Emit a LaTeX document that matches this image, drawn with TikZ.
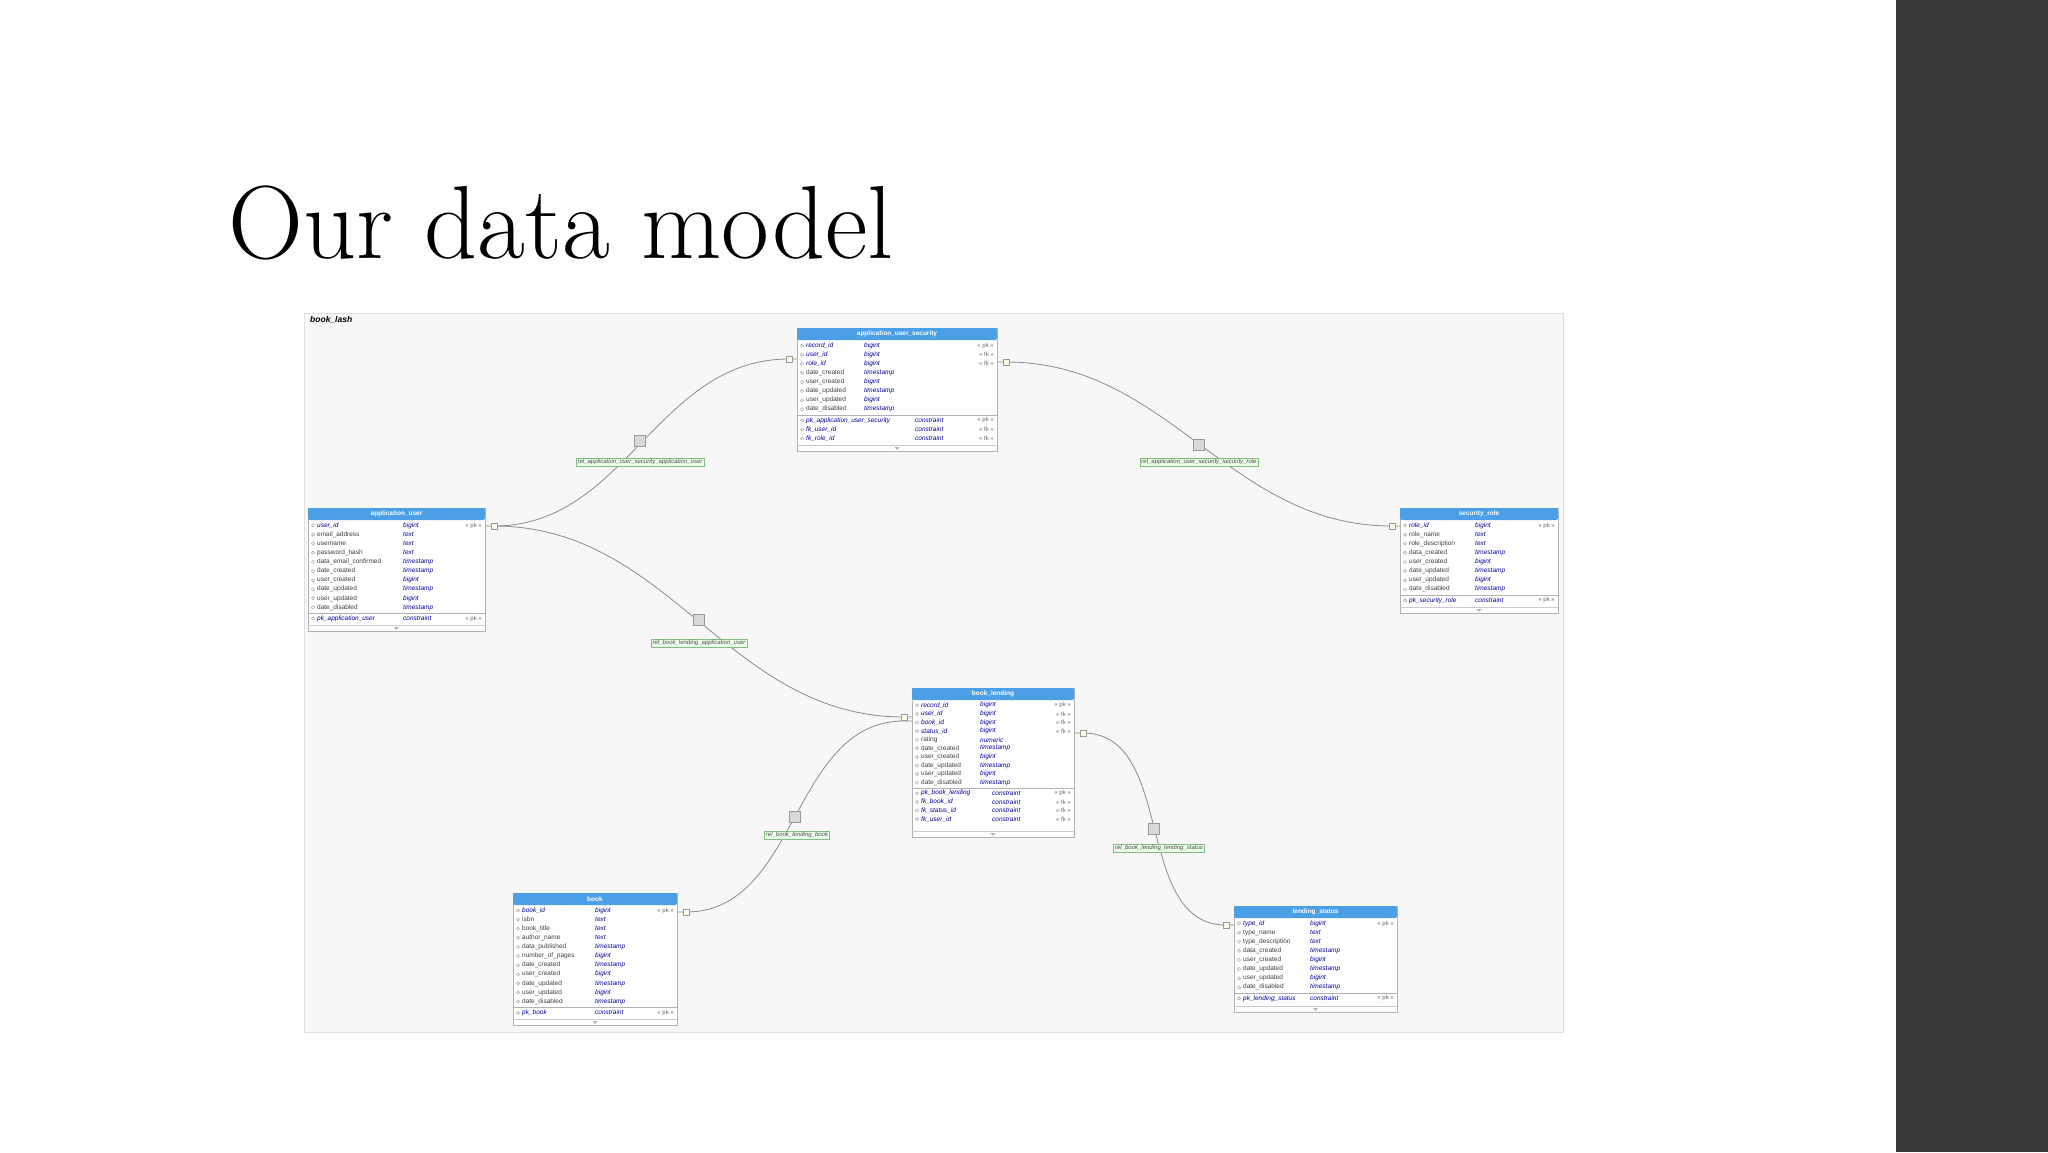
\documentclass[tikz,border=0pt]{standalone}
\usepackage{fontspec}
\newfontfamily\dg{Liberation Sans}
\definecolor{hdr}{HTML}{4A9FE6}
\begin{document}
\begin{tikzpicture}[x=1pt,y=-1pt,
  tbl/.style={draw=black!30,fill=white,inner sep=0,anchor=north west},
  cell/.style={inner sep=0,anchor=west,font=\dg\fontsize{6.5}{7}\selectfont,text=black!75},
  tycell/.style={cell,font=\dg\itshape\fontsize{6.5}{7}\selectfont,text=blue!60!black},
  tag/.style={inner sep=0,anchor=east,font=\dg\fontsize{6}{7}\selectfont,text=black!60},
  rel/.style={draw=black!45,line width=0.8pt},
  sq/.style={draw=black!40,fill=black!15,minimum size=11pt,inner sep=0},
  lab/.style={draw=green!50!black!50,fill=green!8,inner sep=1.5pt,font=\dg\itshape\fontsize{6}{7}\selectfont,text=black!70}]
\newcommand\kk{\itshape\color{blue!60!black}}
\newcommand\ertable[9]{%
  \node[tbl,minimum width=#4pt,minimum height=#5pt] (#1) at (#2,#3) {};
  \fill[rounded corners=2pt,fill=hdr] (#2,#3) rectangle ++(#4,12);
  \node[inner sep=0,font=\dg\bfseries\fontsize{6.5}{7}\selectfont,text=white] at (#2+#4/2,#3+6) {#6};
  \foreach \n/\t/\g [count=\i] in {#8}{
    \draw[black!40] (#2+5,#3+13+\i*\rp-\rp/2) circle (1.6pt);
    \node[cell] at (#2+9,#3+13+\i*\rp-\rp/2) {\n};
    \node[tycell] at (#2+\typex,#3+13+\i*\rp-\rp/2) {\t};
    \node[tag] at (#2+#4-3,#3+13+\i*\rp-\rp/2) {\g};
  }
  \draw[black!30] (#2,#3+14+#7*\rp) -- ++(#4,0);
  \foreach \n/\t/\g [count=\i] in {#9}{
    \draw[black!40] (#2+5,#3+15+#7*\rp+\i*\rp-\rp/2) circle (1.6pt);
    \node[cell] at (#2+9,#3+15+#7*\rp+\i*\rp-\rp/2) {\n};
    \node[tycell] at (#2+\consx,#3+15+#7*\rp+\i*\rp-\rp/2) {\t};
    \node[tag] at (#2+#4-3,#3+15+#7*\rp+\i*\rp-\rp/2) {\g};
  }
  \draw[black!20] (#2,#3+#5-6) -- ++(#4,0);
  \fill[black!30] (#2+#4/2,#3+#5-1) -- ++(-2.5,-3) -- ++(5,0) -- cycle;
}
\useasboundingbox (0,0) rectangle (2048,1152);
\fill[white] (0,0) rectangle (2048,1152);
\fill[black!78] (1896,0) rectangle (2048,1152);
\node[inner sep=0,anchor=base west,font=\fontsize{104}{112}\selectfont] (title) at (228,258) {Our data model};
\node[draw=black!12,fill=black!3,minimum width=1259pt,minimum height=719pt,anchor=north west,inner sep=0] (panel) at (304,313) {};
\node[anchor=north west,inner sep=0,font=\dg\bfseries\itshape\fontsize{8.5}{10}\selectfont] (schema) at (310,316) {book\_lash};
% tables
\def\rp{9.1}\def\typex{67}\def\consx{118}
\ertable{aus}{797}{328}{200}{123}{application\_user\_security}{8}{{\kk record\_id}/bigint/« pk »,{\kk user\_id}/bigint/« fk »,{\kk role\_id}/bigint/« fk »,date\_created/timestamp/,user\_created/bigint/,date\_updated/timestamp/,user\_updated/bigint/,date\_disabled/timestamp/}{{\kk pk\_application\_user\_security}/constraint/« pk »,{\kk fk\_user\_id}/constraint/« fk »,{\kk fk\_role\_id}/constraint/« fk »}
\def\typex{95}\def\consx{95}
\ertable{au}{308}{508}{177}{123}{application\_user}{10}{{\kk user\_id}/bigint/« pk »,email\_address/text/,username/text/,password\_hash/text/,data\_email\_confirmed/timestamp/,date\_created/timestamp/,user\_created/bigint/,date\_updated/timestamp/,user\_updated/bigint/,date\_disabled/timestamp/}{{\kk pk\_application\_user}/constraint/« pk »}
\def\typex{75}\def\consx{75}
\ertable{sr}{1400}{508}{158}{105}{security\_role}{8}{{\kk role\_id}/bigint/« pk »,role\_name/text/,role\_description/text/,data\_created/timestamp/,user\_created/bigint/,date\_updated/timestamp/,user\_updated/bigint/,date\_disabled/timestamp/}{{\kk pk\_security\_role}/constraint/« pk »}
\def\rp{8.6}\def\typex{68}\def\consx{80}
\ertable{bl}{912}{688}{162}{149}{book\_lending}{10}{{\kk record\_id}/bigint/« pk »,{\kk user\_id}/bigint/« fk »,{\kk book\_id}/bigint/« fk »,{\kk status\_id}/bigint/« fk »,rating/numeric/,date\_created/timestamp/,user\_created/bigint/,date\_updated/timestamp/,user\_updated/bigint/,date\_disabled/timestamp/}{{\kk pk\_book\_lending}/constraint/« pk »,{\kk fk\_book\_id}/constraint/« fk »,{\kk fk\_status\_id}/constraint/« fk »,{\kk fk\_user\_id}/constraint/« fk »}
\def\rp{9.1}\def\typex{82}\def\consx{82}
\ertable{bk}{513}{893}{164}{132}{book}{11}{{\kk book\_id}/bigint/« pk »,isbn/text/,book\_title/text/,author\_name/text/,data\_published/timestamp/,number\_of\_pages/bigint/,date\_created/timestamp/,user\_created/bigint/,date\_updated/timestamp/,user\_updated/bigint/,date\_disabled/timestamp/}{{\kk pk\_book}/constraint/« pk »}
\def\typex{76}\def\consx{76}
\ertable{ls}{1234}{906}{163}{106}{lending\_status}{8}{{\kk type\_id}/bigint/« pk »,type\_name/text/,type\_description/text/,data\_created/timestamp/,user\_created/bigint/,date\_updated/timestamp/,user\_updated/bigint/,date\_disabled/timestamp/}{{\kk pk\_lending\_status}/constraint/« pk »}
% attach points
\coordinate (p1) at (494,526); \coordinate (p2) at (789,359);
\coordinate (p3) at (1006,362); \coordinate (p4) at (1392,526);
\coordinate (p5) at (904,717);
\coordinate (p6) at (686,912); \coordinate (p7) at (904,721);
\coordinate (p8) at (1083,733); \coordinate (p9) at (1226,925);
\draw[rel] (au.north east|-p1) -- (p1) to[out=0,in=180] (p2) -- (aus.west|-p2);
\draw[rel] (aus.east|-p3) -- (p3) to[out=0,in=180] (p4) -- (sr.west|-p4);
\draw[rel] (p1) to[out=0,in=180] (p5) -- (bl.west|-p5);
\draw[rel] (bk.east|-p6) -- (p6) to[out=0,in=180] (p7) -- (bl.west|-p7);
\draw[rel] (bl.east|-p8) -- (p8) to[out=0,in=180] (p9) -- (ls.west|-p9);
\foreach \c in {p1,p2,p3,p4,p5,p6,p8,p9}{\node[draw=black!40,fill=yellow!10,minimum size=6pt,inner sep=0] at (\c) {};}
\node[sq] (s1) at (640,441) {}; \node[lab] (l1) at (640,462) {rel\_application\_user\_security\_application\_user};
\node[sq] (s2) at (1199,445) {}; \node[lab] (l2) at (1199,462) {rel\_application\_user\_security\_security\_role};
\node[sq] (s3) at (699,620) {}; \node[lab] (l3) at (699,643) {rel\_book\_lending\_application\_user};
\node[sq] (s4) at (795,817) {}; \node[lab] (l4) at (797,835) {rel\_book\_lending\_book};
\node[sq] (s5) at (1154,829) {}; \node[lab] (l5) at (1159,848) {rel\_book\_lending\_lending\_status};
\end{tikzpicture}
\end{document}
